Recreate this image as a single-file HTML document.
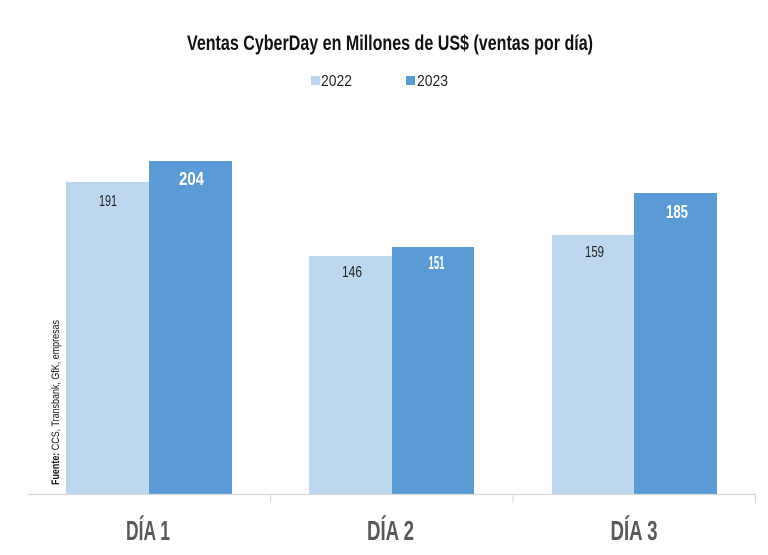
<!DOCTYPE html>
<html>
<head>
<meta charset="utf-8">
<style>
  html,body{margin:0;padding:0;background:#fff;}
  svg{display:block;}
  text{font-family:"Liberation Sans Narrow","Liberation Sans",sans-serif;}
</style>
</head>
<body>
<svg width="768" height="555" viewBox="0 0 768 555" xmlns="http://www.w3.org/2000/svg">
  <rect width="768" height="555" fill="#fff"/>
  <!-- Title -->
  <text x="390" y="50" font-size="21" font-weight="bold" fill="#111" text-anchor="middle" textLength="406" lengthAdjust="spacingAndGlyphs">Ventas CyberDay en Millones de US$ (ventas por día)</text>
  <!-- Legend -->
  <rect x="311" y="76" width="9" height="9" fill="#BDD7EE"/>
  <text x="321" y="86" font-size="16" fill="#222" textLength="31" lengthAdjust="spacingAndGlyphs">2022</text>
  <rect x="406" y="76" width="9" height="9" fill="#5B9BD5"/>
  <text x="417" y="86" font-size="16" fill="#222" textLength="31" lengthAdjust="spacingAndGlyphs">2023</text>

  <!-- Bars -->
  <rect x="66" y="182" width="83" height="312" fill="#BDD7EE"/>
  <rect x="149" y="161" width="83" height="333" fill="#5B9BD5"/>
  <rect x="309" y="256" width="83" height="238" fill="#BDD7EE"/>
  <rect x="392" y="247" width="82" height="247" fill="#5B9BD5"/>
  <rect x="552" y="235" width="82" height="259" fill="#BDD7EE"/>
  <rect x="634" y="193" width="83" height="301" fill="#5B9BD5"/>

  <!-- Axis -->
  <line x1="28" y1="494.5" x2="756" y2="494.5" stroke="#d9d9d9" stroke-width="1.2"/>
  <line x1="270.5" y1="494" x2="270.5" y2="503" stroke="#d9d9d9" stroke-width="1"/>
  <line x1="513" y1="494" x2="513" y2="503" stroke="#d9d9d9" stroke-width="1"/>
  <line x1="755.5" y1="494" x2="755.5" y2="503" stroke="#d9d9d9" stroke-width="1"/>

  <!-- Value labels -->
  <text x="108" y="206" font-size="16" fill="#222" text-anchor="middle" textLength="18" lengthAdjust="spacingAndGlyphs">191</text>
  <text x="191.5" y="185" font-size="18" font-weight="bold" fill="#fff" text-anchor="middle" textLength="25" lengthAdjust="spacingAndGlyphs">204</text>
  <text x="352" y="277" font-size="16" fill="#222" text-anchor="middle" textLength="20" lengthAdjust="spacingAndGlyphs">146</text>
  <text x="436.5" y="269" font-size="18" font-weight="bold" fill="#fff" text-anchor="middle" textLength="16" lengthAdjust="spacingAndGlyphs">151</text>
  <text x="594.5" y="257" font-size="16" fill="#222" text-anchor="middle" textLength="19" lengthAdjust="spacingAndGlyphs">159</text>
  <text x="677" y="218" font-size="18" font-weight="bold" fill="#fff" text-anchor="middle" textLength="22" lengthAdjust="spacingAndGlyphs">185</text>

  <!-- Category labels -->
  <text x="148" y="540" font-size="28" font-weight="bold" fill="#595959" text-anchor="middle" textLength="44" lengthAdjust="spacingAndGlyphs">DÍA 1</text>
  <text x="390.5" y="540" font-size="28" font-weight="bold" fill="#595959" text-anchor="middle" textLength="47" lengthAdjust="spacingAndGlyphs">DÍA 2</text>
  <text x="634" y="540" font-size="28" font-weight="bold" fill="#595959" text-anchor="middle" textLength="47" lengthAdjust="spacingAndGlyphs">DÍA 3</text>

  <!-- Source -->
  <text transform="translate(59,485) rotate(-90)" font-size="11" fill="#111" textLength="165" lengthAdjust="spacingAndGlyphs"><tspan font-weight="bold">Fuente:</tspan> CCS, Transbank, GfK, empresas</text>
</svg>
</body>
</html>
